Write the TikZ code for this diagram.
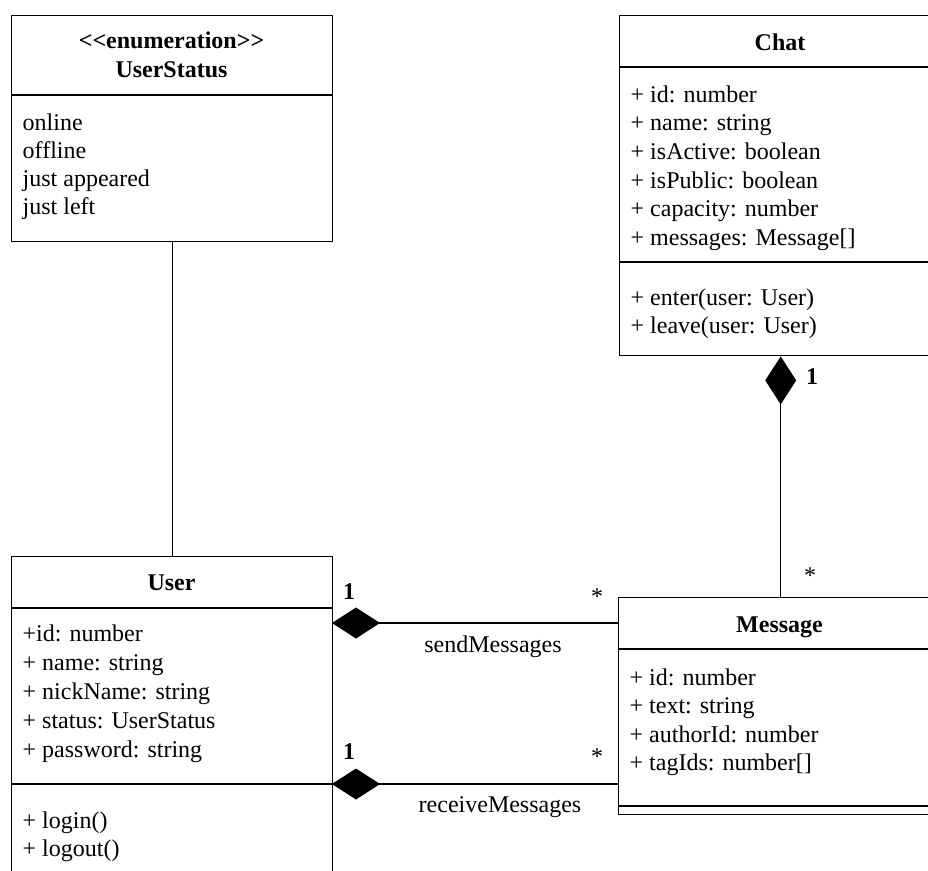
\documentclass[tikz,border=0pt]{standalone}
\usepackage{fontspec}
\setmainfont{Liberation Serif}
\usetikzlibrary{arrows.meta}
\begin{document}
\begin{tikzpicture}[x=1pt,y=-1pt,line width=1.4pt,
  classbox/.style={draw,line width=1.4pt,anchor=north west,inner sep=0pt},
  sep/.style={line width=1.4pt},
  ctitle/.style={font=\fontsize{24}{28}\selectfont\bfseries,anchor=base,inner sep=0pt},
  attr/.style={font=\fontsize{24}{28}\selectfont,anchor=base west,inner sep=0pt},
  mult/.style={font=\fontsize{24}{28}\selectfont,inner sep=0pt},
  multb/.style={font=\fontsize{24}{28}\selectfont\bfseries,inner sep=0pt},
  rolelabel/.style={font=\fontsize{24}{28}\selectfont,anchor=base,inner sep=0pt},
  comp/.style={{Diamond[length=48pt,width=31pt]}-}
]
\useasboundingbox (0,0) rectangle (928,870);
\clip (0,0) rectangle (928,870);

% ---------- UserStatus enumeration ----------
\node[classbox,minimum width=321pt,minimum height=226pt] (us) at (11,15) {};
\draw[sep] (11,95) -- (332,95);
\node[ctitle] (ust1) at (171.5,48) {\textless\kern0pt\textless\kern0pt enumeration\textgreater\kern0pt\textgreater};
\node[ctitle] (ust2) at (171.5,77) {UserStatus};
\node[attr] (usa1) at (22,130) {online};
\node[attr] (usa2) at (22,158) {offline};
\node[attr] (usa3) at (22,186) {just appeared};
\node[attr] (usa4) at (22,214) {just left};

% ---------- Chat ----------
\node[classbox,minimum width=322pt,minimum height=340pt] (chat) at (619,15) {};
\draw[sep] (619,67) -- (941,67);
\draw[sep] (619,262) -- (941,262);
\node[ctitle] (ct) at (780,50) {Chat};
\node[attr] (ca1) at (630,102) {+ id: number};
\node[attr] (ca2) at (630,130.7) {+ name: string};
\node[attr] (ca3) at (630,159.4) {+ isActive: boolean};
\node[attr] (ca4) at (630,188.1) {+ isPublic: boolean};
\node[attr] (ca5) at (630,216.8) {+ capacity: number};
\node[attr] (ca6) at (630,245.5) {+ messages: Message[]};
\node[attr] (cm1) at (630,305) {+ enter(user: User)};
\node[attr] (cm2) at (630,333) {+ leave(user: User)};

% ---------- User ----------
\node[classbox,minimum width=321pt,minimum height=330pt] (user) at (11,556) {};
\draw[sep] (11,608) -- (332,608);
\draw[sep] (11,784) -- (332,784);
\node[ctitle] (ut) at (171.5,590) {User};
\node[attr] (ua1) at (22,641) {+id: number};
\node[attr] (ua2) at (22,670) {+ name: string};
\node[attr] (ua3) at (22,699) {+ nickName: string};
\node[attr] (ua4) at (22,728) {+ status: UserStatus};
\node[attr] (ua5) at (22,757) {+ password: string};
\node[attr] (um1) at (22,828) {+ login()};
\node[attr] (um2) at (22,856) {+ logout()};

% ---------- Message ----------
\node[classbox,minimum width=323pt,minimum height=217pt] (msg) at (618,597) {};
\draw[sep] (618,649) -- (941,649);
\draw[sep] (618,806) -- (941,806);
\node[ctitle] (mt) at (779.5,632) {Message};
\node[attr] (ma1) at (629,685) {+ id: number};
\node[attr] (ma2) at (629,713) {+ text: string};
\node[attr] (ma3) at (629,742) {+ authorId: number};
\node[attr] (ma4) at (629,770) {+ tagIds: number[]};

% ---------- relations ----------
\draw (us.south) -- (user.north);

\draw[comp] (chat.south) -- (chat.south |- msg.north);
\node[multb] (c1) at (812,377) {1};
\node[mult] (c2) at (810,576) {*};

\coordinate (snd) at (332,623);
\draw[comp] (snd) -- (snd -| msg.west);
\node[multb] (s1) at (349,592) {1};
\node[mult] (s2) at (597,597) {*};
\node[rolelabel] (sl) at (493,652) {sendMessages};

\coordinate (rcv) at (332,784);
\draw[comp] (rcv) -- (rcv -| msg.west);
\node[multb] (r1) at (349,752) {1};
\node[mult] (r2) at (597,757) {*};
\node[rolelabel] (rl) at (500,812) {receiveMessages};
\end{tikzpicture}
\end{document}
